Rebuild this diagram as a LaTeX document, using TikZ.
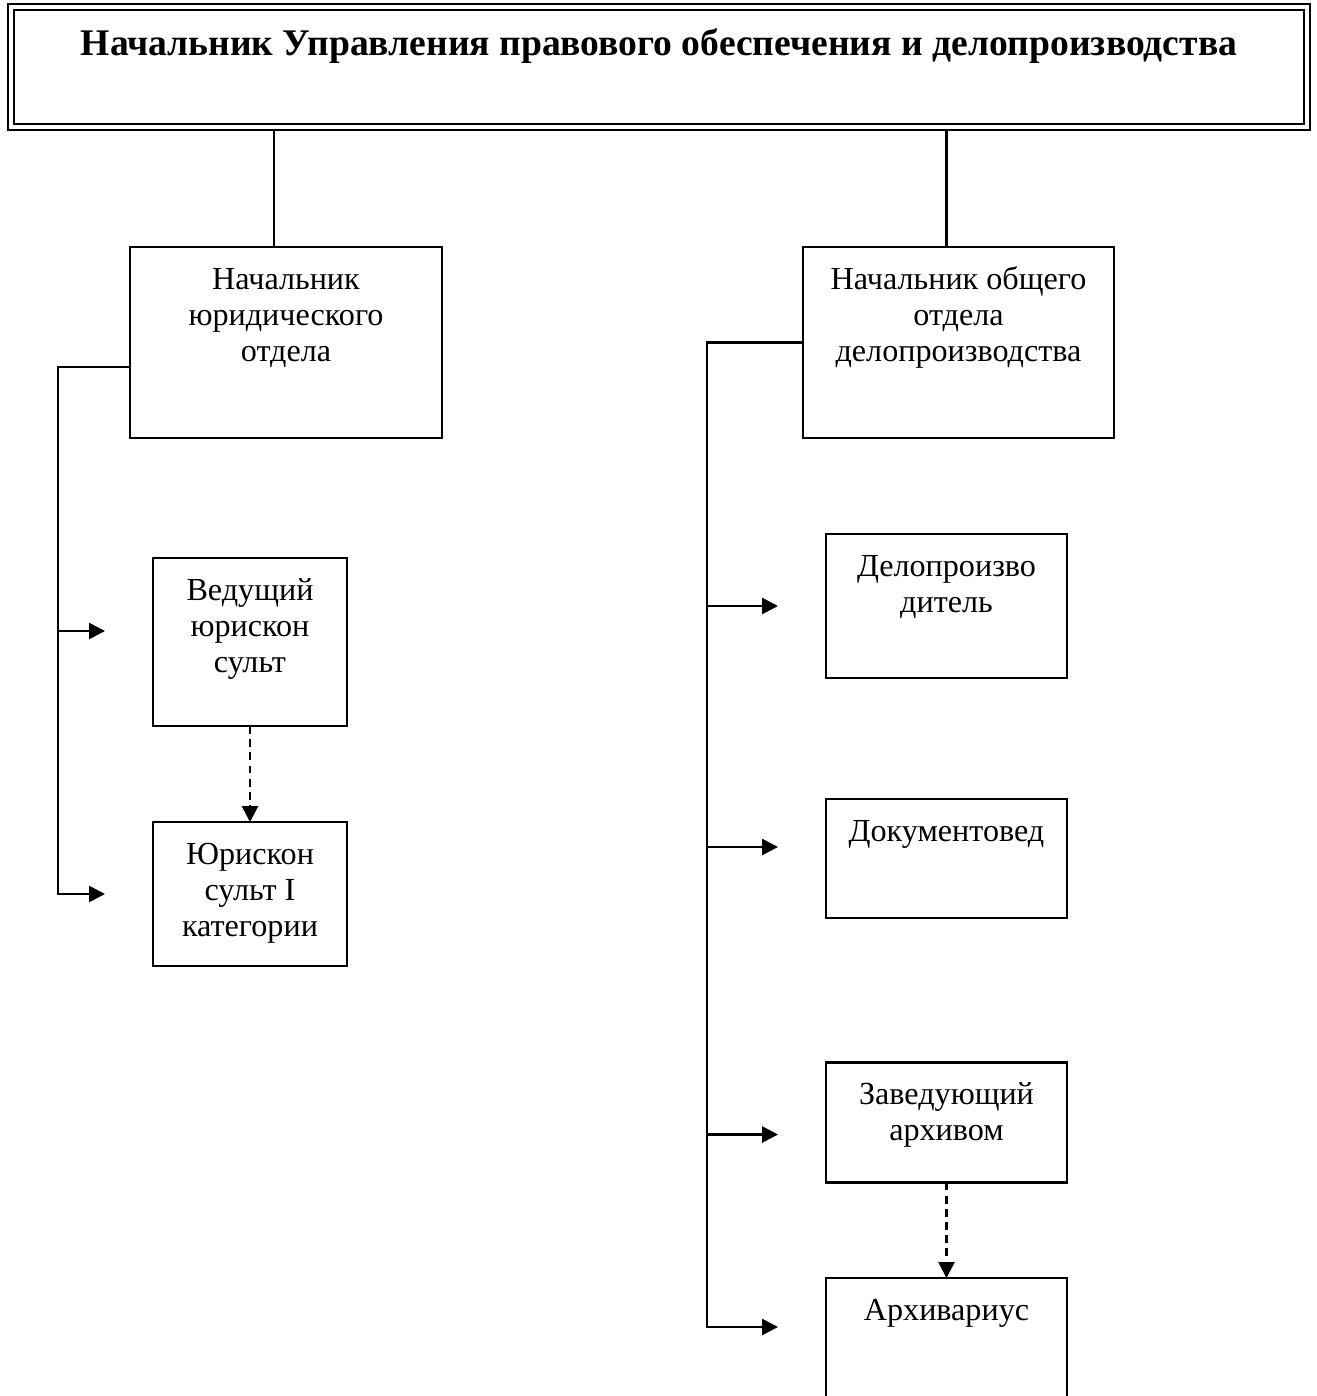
\documentclass[tikz,border=0pt]{standalone}
\usepackage{fontspec}
\setmainfont{Liberation Serif}
\usetikzlibrary{arrows.meta}
\tikzset{
  post/.style={draw, line width=1.5pt, outer sep=0pt, inner sep=0pt},
  wide/.style={post, minimum width=6.24cm, minimum height=3.82cm},
  slim/.style={post, minimum width=3.88cm},
  mid/.style={post, minimum width=4.82cm},
  txt/.style={anchor=north, align=center, inner sep=0pt, yshift=-8.9pt,
    font=\fontsize{18.3}{20.5}\selectfont},
  title/.style={anchor=north, align=center, inner sep=0pt, yshift=-12.4pt,
    font=\bfseries\fontsize{21.4}{24}\selectfont},
  dashy/.style={->, dash pattern=on 4.5pt off 3pt}
}
\begin{document}
\begin{tikzpicture}[x=0.02cm, y=-0.02cm, line width=1.5pt,
    >={Triangle[length=9pt,width=9pt]}]
  \useasboundingbox (0,0) rectangle (1317,1396);
  \clip (0,0) rectangle (1317,1396);
  % head
  \node[post, line width=1.3pt, double, double distance=2.2pt, outer sep=2.4pt,
    minimum width=25.92cm, minimum height=2.39cm,
    label={[title]north:{\strut Начальник Управления правового обеспечения и делопроизводства}}]
    (head) at (659,67) {};
  % departments
  \node[wide, label={[txt]north:{\strut Начальник\\юридического\\отдела}}] (legal) at (286,342.5) {};
  \node[wide, minimum width=6.22cm,
    label={[txt]north:{\strut Начальник общего\\отдела\\делопроизводства}}] (office) at (958.5,342.5) {};
  % staff
  \node[slim, minimum height=3.36cm, label={[txt]north:{\strut Ведущий\\юрискон\\сульт}}] (senior) at (250,642) {};
  \node[slim, minimum height=2.88cm, label={[txt]north:{\strut Юрискон\\сульт I\\категории}}] (jurist) at (250,894) {};
  \node[mid, minimum height=2.88cm, label={[txt]north:{\strut Делопроизво\\дитель}}] (clerk) at (946.5,606) {};
  \node[mid, minimum height=2.38cm, label={[txt]north:{\strut Документовед}}] (docs) at (946.5,858.5) {};
  \node[mid, minimum height=2.4cm, label={[txt]north:{\strut Заведующий\\архивом}}] (archhead) at (946.5,1122.5) {};
  \node[mid, minimum height=3.2cm, label={[txt]north:{\strut Архивариус}}] (archivist) at (946.5,1358) {};
  % links to head
  \draw ([xshift=-0.24cm]legal.north) -- ([xshift=-0.24cm]legal.north |- head.south);
  \draw ([xshift=-0.24cm]office.north) -- ([xshift=-0.24cm]office.north |- head.south);
  % left branch
  \coordinate (lspine) at (58,0);
  \coordinate (senior in) at ([xshift=-0.96cm,yshift=0.22cm]senior.west);
  \coordinate (jurist in) at ([xshift=-0.96cm]jurist.west);
  \draw[->] ([yshift=-0.49cm]legal.west) -- ([yshift=-0.49cm]legal.west -| lspine) |- (jurist in);
  \draw[->] (senior in -| lspine) -- (senior in);
  \draw[dashy] (senior) -- (jurist);
  % right branch
  \coordinate (rspine) at (707,0);
  \coordinate (clerk in) at ([xshift=-0.96cm]clerk.west);
  \coordinate (docs in) at ([xshift=-0.96cm,yshift=0.23cm]docs.west);
  \coordinate (archhead in) at ([xshift=-0.96cm,yshift=-0.24cm]archhead.west);
  \coordinate (archivist in) at ([xshift=-0.96cm,yshift=-0.98cm]archivist.north west);
  \draw[->] (office.west) -- (office.west -| rspine) |- (archivist in);
  \foreach \n in {clerk, docs, archhead}
    \draw[->] (\n\space in -| rspine) -- (\n\space in);
  \draw[dashy] (archhead) -- (archivist);
\end{tikzpicture}
\end{document}
